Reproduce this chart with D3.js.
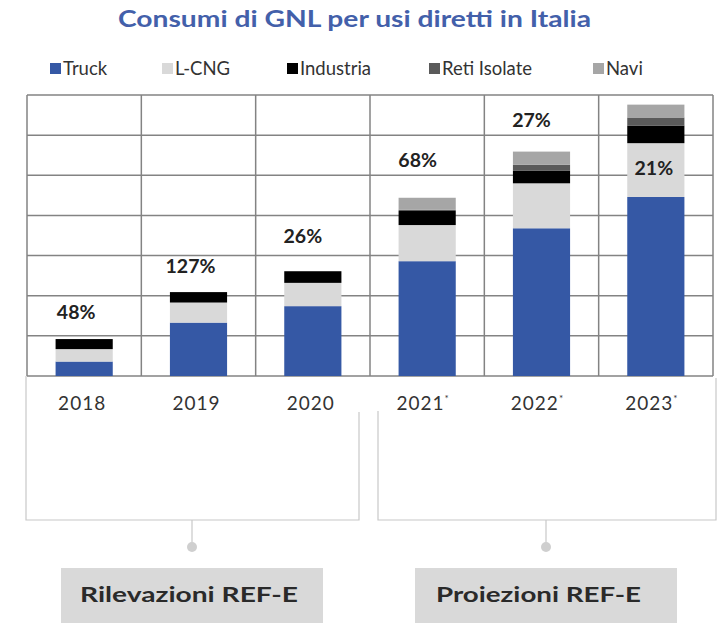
<!DOCTYPE html>
<html>
<head>
<meta charset="utf-8">
<script src="https://cdn.jsdelivr.net/npm/d3@7"></script>
<style>
  body { margin: 0; background: #fff; }
  svg { display: block; font-family: Lato, "Open Sans", sans-serif; }
</style>
</head>
<body>
<script>
// data (unit: one grid row = 50)
const years = ["2018", "2019", "2020", "2021", "2022", "2023"];
const projected = [false, false, false, true, true, true];
const truck = [18, 66.5, 87, 143, 184, 223];
const lcng = [15.5, 25, 29, 45, 56, 67];
const industria = [12.5, 13, 14.5, 17.5, 15.5, 22];
const retiIsolate = [0, 0, 0, 1.5, 7.5, 10];
const navi = [0, 0, 0, 15, 16.5, 16];
const growth = ["48%", "127%", "26%", "68%", "27%", "21%"];
const seriesNames = ["Truck", "L-CNG", "Industria", "Reti Isolate", "Navi"];
const groups = ["Rilevazioni REF-E", "Proiezioni REF-E"];

const colors = ["#3558a5", "#d9d9d9", "#000000", "#5a5a5a", "#a6a6a6"];

const width = 719, height = 623;
const svg = d3.select("body").append("svg")
    .attr("width", width)
    .attr("height", height);

const plotTop = 95, plotBottom = 376, plotLeft = 27, plotRight = 713;

const x = d3.scaleBand().domain(years).range([plotLeft, plotRight]).padding(0);
const y = d3.scaleLinear().domain([0, 350]).range([plotBottom, plotTop]);

// title
svg.append("text")
    .attr("x", 118).attr("y", 27)
    .attr("fill", "#4360aa")
    .attr("font-size", 22).attr("font-weight", "bold")
    .attr("textLength", 473).attr("lengthAdjust", "spacingAndGlyphs")
    .text("Consumi di GNL per usi diretti in Italia");

// legend
const legendX = [50, 162, 287, 429, 593];
const legend = svg.append("g").selectAll("g")
    .data(seriesNames)
    .join("g")
    .attr("transform", (d, i) => "translate(" + legendX[i] + ",68)");
legend.append("rect")
    .attr("x", 0).attr("y", -5).attr("width", 11).attr("height", 11)
    .attr("fill", (d, i) => colors[i]);
legend.append("text")
    .attr("x", 13).attr("y", 7)
    .attr("font-size", 18.5).attr("fill", "#333")
    .text(d => d);

// grid
const grid = svg.append("g").attr("stroke", "#838383").attr("stroke-width", 1.5);
grid.selectAll("line.h")
    .data(y.ticks(7))
    .join("line")
    .attr("class", "h")
    .attr("x1", plotLeft).attr("x2", plotRight)
    .attr("y1", d => y(d)).attr("y2", d => y(d));
grid.selectAll("line.v")
    .data(years.concat(["end"]))
    .join("line")
    .attr("class", "v")
    .attr("x1", d => d === "end" ? plotRight : x(d))
    .attr("x2", d => d === "end" ? plotRight : x(d))
    .attr("y1", plotTop).attr("y2", plotBottom);

// stacked bars
const rows = years.map((yr, i) => ({
    year: yr,
    "Truck": truck[i],
    "L-CNG": lcng[i],
    "Industria": industria[i],
    "Reti Isolate": retiIsolate[i],
    "Navi": navi[i]
}));
const stacked = d3.stack().keys(seriesNames)(rows);
const barW = x.bandwidth() * 0.5;

svg.append("g").selectAll("g")
    .data(stacked)
    .join("g")
    .attr("fill", (d, i) => colors[i])
    .selectAll("rect")
    .data(d => d)
    .join("rect")
    .attr("x", d => x(d.data.year) + (x.bandwidth() - barW) / 2)
    .attr("y", d => y(d[1]))
    .attr("width", barW)
    .attr("height", d => y(d[0]) - y(d[1]));

// growth labels
const totals = stacked[stacked.length - 1].map(d => d[1]);
const labelGap = [27.5, 26.5, 35.5, 37.5, 31.5, -63];
const labelDx = [-8, -8, -10, -9.5, -10, -2];
svg.append("g").selectAll("text")
    .data(growth)
    .join("text")
    .attr("x", (d, i) => x(years[i]) + x.bandwidth() / 2 + labelDx[i])
    .attr("y", (d, i) => y(totals[i]) - labelGap[i] + 7)
    .attr("text-anchor", "middle")
    .attr("font-size", 19.5).attr("font-weight", "bold")
    .attr("fill", "#222")
    .text(d => d);

// year labels
const yl = svg.append("g").selectAll("text")
    .data(years)
    .join("text")
    .attr("x", (d, i) => x(d) + x.bandwidth() / 2 + (projected[i] ? -4 : -2))
    .attr("y", 410)
    .attr("text-anchor", "middle")
    .attr("font-size", 19).attr("letter-spacing", 1).attr("fill", "#333")
    .text(d => d);
yl.filter((d, i) => projected[i])
    .append("tspan")
    .attr("font-size", 10).attr("dy", -8)
    .text("*");

// brackets below the axis
const bx = x(years[3]);
const br = svg.append("g")
    .attr("fill", "none").attr("stroke", "#c8c8c8").attr("stroke-width", 1.2);
br.append("path")
    .attr("d", "M" + (plotLeft - 1) + "," + plotBottom + "V520H" + (bx - 11) + "V412");
br.append("path")
    .attr("d", "M" + (bx + 8) + ",411V520H" + (plotRight + 3) + "V378");

const groupX = [192, 546];
br.selectAll("line.c")
    .data(groupX)
    .join("line")
    .attr("class", "c")
    .attr("x1", d => d).attr("x2", d => d)
    .attr("y1", 520).attr("y2", 546);
svg.append("g").selectAll("circle")
    .data(groupX)
    .join("circle")
    .attr("cx", d => d).attr("cy", 547).attr("r", 5)
    .attr("fill", "#cfcfcf");

const boxes = svg.append("g").selectAll("g")
    .data(groups)
    .join("g")
    .attr("transform", (d, i) => "translate(" + groupX[i] + ",0)");
boxes.append("rect")
    .attr("x", -131).attr("y", 568).attr("width", 262).attr("height", 55)
    .attr("fill", "#d9d9d9");
boxes.append("text")
    .attr("x", (d, i) => i === 0 ? -112 : -110).attr("y", 602)
    .attr("font-size", 21).attr("font-weight", "bold")
    .attr("fill", "#2a2a2a")
    .attr("textLength", (d, i) => i === 0 ? 218 : 205)
    .attr("lengthAdjust", "spacingAndGlyphs")
    .text(d => d);
</script>
</body>
</html>
